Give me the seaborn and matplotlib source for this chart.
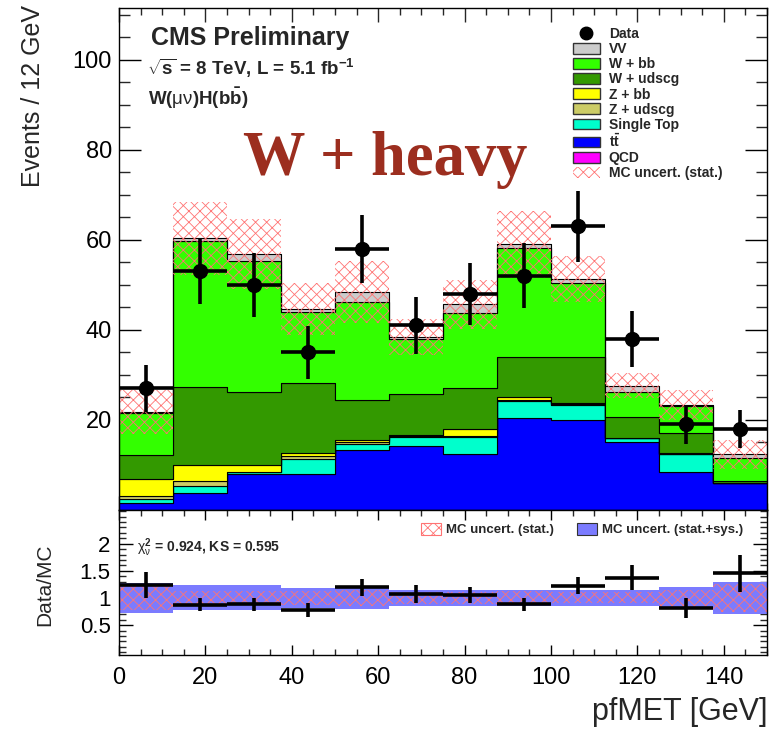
import numpy as np
import pandas as pd
import matplotlib
matplotlib.use("Agg")
import matplotlib.pyplot as plt
import seaborn as sns
from matplotlib.patches import Patch
from matplotlib.lines import Line2D
from matplotlib.ticker import MultipleLocator, FixedLocator

# ---- binning: pfMET from 0 to 150 GeV in 12 bins ----
bin_edges = np.linspace(0.0, 150.0, 13)
bin_centers = 0.5 * (bin_edges[:-1] + bin_edges[1:])
half_width = 0.5 * (bin_edges[1] - bin_edges[0])

# ---- simulated backgrounds (events per bin), stacked bottom -> top ----
qcd       = [0.0, 0.0, 0.0, 0.0, 0.0, 0.0, 0.0, 0.0, 0.0, 0.0, 0.0, 0.0]
ttbar     = [1.6, 3.8, 8.0, 8.1, 13.3, 14.2, 12.4, 20.4, 20.1, 15.0, 8.5, 5.9]
single_top = [0.8, 1.5, 0.4, 3.2, 1.4, 2.1, 3.9, 3.8, 3.3, 0.9, 3.9, 0.0]
z_udscg   = [0.6, 1.1, 0.1, 0.8, 0.3, 0.1, 0.2, 0.2, 0.1, 0.0, 0.1, 0.0]
z_bb      = [3.8, 3.6, 1.5, 0.5, 0.6, 0.2, 1.6, 0.8, 0.3, 0.0, 0.1, 0.0]
w_udscg   = [5.4, 17.4, 16.2, 15.5, 8.8, 9.2, 8.9, 8.7, 10.1, 4.7, 4.4, 0.6]
w_bb      = [9.3, 32.4, 29.1, 15.8, 21.7, 12.1, 16.7, 24.2, 16.5, 5.5, 6.0, 5.0]
vv        = [0.3, 0.6, 1.5, 0.8, 2.4, 0.5, 2.0, 0.9, 0.9, 1.5, 0.3, 0.9]

# ---- observed data and MC uncertainties ----
data_counts = [27, 53, 50, 35, 58, 41, 48, 52, 63, 38, 19, 18]
mc_stat_err = [4.9, 8.1, 7.8, 5.8, 6.9, 4.0, 5.4, 7.4, 5.2, 2.8, 3.4, 3.2]
mc_tot_rel_err = [0.28, 0.23, 0.23, 0.18, 0.21, 0.14, 0.14, 0.14, 0.15, 0.15, 0.20, 0.30]

process_names = ["QCD", "ttbar", "Single Top", "Z + udscg", "Z + bb",
                 "W + udscg", "W + bb", "VV"]
process_values = [qcd, ttbar, single_top, z_udscg, z_bb, w_udscg, w_bb, vv]
process_colors = {
    "QCD": "#ff00ff",
    "ttbar": "#0000ff",
    "Single Top": "#00ffcc",
    "Z + udscg": "#cccc66",
    "Z + bb": "#ffff00",
    "W + udscg": "#339900",
    "W + bb": "#33ff00",
    "VV": "#cccccc",
}
legend_labels = {"ttbar": r"$\mathbf{t}\bar{\mathbf{t}}$"}

stack_df = pd.DataFrame({
    "met": np.tile(bin_centers, len(process_names)),
    "events": np.concatenate([np.asarray(v, float) for v in process_values]),
    "process": np.repeat(process_names, len(bin_centers)),
})

mc_total = np.sum([np.asarray(v, float) for v in process_values], axis=0)
data_arr = np.asarray(data_counts, float)
data_err = np.sqrt(data_arr)
stat_arr = np.asarray(mc_stat_err, float)

# ---- style ----
sns.set_theme(style="ticks")
plt.rcParams["font.family"] = ["Liberation Sans", "DejaVu Sans"]
plt.rcParams["mathtext.fontset"] = "custom"
plt.rcParams["mathtext.rm"] = "Liberation Sans:bold"
plt.rcParams["mathtext.bf"] = "Liberation Sans:bold"
plt.rcParams["mathtext.it"] = "Liberation Sans"
plt.rcParams["hatch.linewidth"] = 0.6
plt.rcParams["axes.edgecolor"] = "black"
plt.rcParams["axes.linewidth"] = 1.0

W, H = 775, 730
fig = plt.figure(figsize=(W / 100, H / 100), dpi=100)
ax = fig.add_axes([119 / W, 1 - 510 / H, 648 / W, 502 / H])
rax = fig.add_axes([119 / W, 1 - 655 / H, 648 / W, 145 / H], sharex=ax)

hatch_red = (1.0, 0.45, 0.45)

# ---- stacked backgrounds (seaborn stacks the first hue level on top) ----
sns.histplot(data=stack_df, x="met", weights="events", hue="process",
             hue_order=process_names[::-1], palette=process_colors,
             multiple="stack", bins=[float(b) for b in bin_edges],
             element="step", alpha=1.0, edgecolor="black", linewidth=0.8,
             legend=False, ax=ax)

# MC statistical uncertainty band
ax.stairs(mc_total + stat_arr, bin_edges, baseline=mc_total - stat_arr,
          fill=True, facecolor="none", edgecolor=hatch_red, hatch="xxx",
          linewidth=0)

# data points
ax.errorbar(bin_centers, data_arr, xerr=half_width, yerr=data_err,
            fmt="o", color="black", ms=10, elinewidth=2.6, capsize=0,
            zorder=5)

ax.set_xlim(0, 150)
ax.set_ylim(0, 111.5)
ax.set_xlabel("")
ax.set_ylabel("")
ax.yaxis.set_major_locator(FixedLocator([20, 40, 60, 80, 100]))
ax.yaxis.set_minor_locator(MultipleLocator(5))
ax.xaxis.set_major_locator(MultipleLocator(20))
ax.xaxis.set_minor_locator(MultipleLocator(5))
ax.tick_params(axis="y", which="major", direction="in", length=16, width=1,
               left=True, right=True, labelsize=17, pad=5, colors="black")
ax.tick_params(axis="y", which="minor", direction="in", length=8, width=1,
               left=True, right=True)
ax.tick_params(axis="x", which="major", direction="in", length=10, width=1,
               top=True, bottom=True, labelbottom=False)
ax.tick_params(axis="x", which="minor", direction="in", length=5, width=1,
               top=True, bottom=True)

# legend for the main panel
handles = [Line2D([], [], marker="o", color="black", ls="none", ms=9)]
labels = ["Data"]
for name in ["VV", "W + bb", "W + udscg", "Z + bb", "Z + udscg",
             "Single Top", "ttbar", "QCD"]:
    handles.append(Patch(facecolor=process_colors[name], edgecolor="#333333",
                         linewidth=1.0))
    labels.append(legend_labels.get(name, name))
handles.append(Patch(facecolor="none", edgecolor=hatch_red, hatch="xxx",
                     linewidth=0))
labels.append("MC uncert. (stat.)")
ax.legend(handles, labels, loc="upper left", bbox_to_anchor=(0.700, 0.962),
          frameon=False, prop={"weight": "bold", "size": 10},
          handlelength=2.0, handleheight=0.8, labelspacing=0.08,
          handletextpad=0.6, borderaxespad=0, borderpad=0)

# ---- ratio panel ----
ratio = data_arr / mc_total
ratio_err = data_err / mc_total
band = np.asarray(mc_tot_rel_err, float)
stat_rel = stat_arr / mc_total

rax.stairs(1 + band, bin_edges, baseline=1 - band, fill=True,
           facecolor="#7b7bff", edgecolor="none", linewidth=0)
rax.stairs(1 + stat_rel, bin_edges, baseline=1 - stat_rel, fill=True,
           facecolor="none", edgecolor=hatch_red, hatch="xxx", linewidth=0)
rax.errorbar(bin_centers, ratio, xerr=half_width, yerr=ratio_err,
             fmt="none", ecolor="black", elinewidth=2.6, capsize=0, zorder=5)

rax.set_ylim(-0.05, 2.62)
rax.set_xlim(0, 150)
rax.yaxis.set_major_locator(FixedLocator([0.5, 1.0, 1.5, 2.0]))
rax.yaxis.set_minor_locator(MultipleLocator(0.1))
rax.set_yticklabels(["0.5", "1", "1.5", "2"])
rax.xaxis.set_major_locator(MultipleLocator(20))
rax.xaxis.set_minor_locator(MultipleLocator(5))
rax.tick_params(axis="y", which="major", direction="in", length=10, width=1,
                left=True, right=True, labelsize=16, pad=6, colors="black")
rax.tick_params(axis="y", which="minor", direction="in", length=5, width=1,
                left=True, right=True)
rax.tick_params(axis="x", which="major", direction="in", length=7, width=1,
                top=True, bottom=True, labelsize=17, pad=9, colors="black")
rax.tick_params(axis="x", which="minor", direction="in", length=4, width=1,
                top=True, bottom=True)
rax.set_xlabel("")
rax.set_ylabel("")

rhandles = [Patch(facecolor="white", edgecolor=hatch_red, hatch="xxx",
                  linewidth=0.8),
            Patch(facecolor="#7b7bff", edgecolor="#333333", linewidth=0.8)]
rlabels = ["MC uncert. (stat.)", "MC uncert. (stat.+sys.)"]
rax.legend(rhandles, rlabels, loc="center left",
           bbox_to_anchor=(0.466, 0.865), ncol=2, frameon=False,
           prop={"weight": "bold", "size": 9.5}, handlelength=1.5,
           handleheight=1.1, handletextpad=0.4, columnspacing=1.75,
           borderaxespad=0, borderpad=0)

fig.text(137 / W, 1 - 548 / H, r"$\chi^2_\nu$ = 0.924, KS = 0.595",
         fontsize=10, fontweight="bold", va="center", ha="left")

# ---- axis titles and annotations ----
fig.text(33 / W, 1 - 5 / H, "Events / 12 GeV", rotation=90, ha="center",
         va="top", fontsize=18)
fig.text(45 / W, 1 - 585 / H, "Data/MC", rotation=90, ha="center",
         va="center", fontsize=15)
fig.text(768 / W, 1 - 712 / H, "pfMET [GeV]", ha="right", va="center",
         fontsize=22)

fig.text(151 / W, 1 - 38 / H, "CMS Preliminary", fontsize=18,
         fontweight="bold", va="center", ha="left")
fig.text(147 / W, 1 - 68 / H,
         r"$\sqrt{\mathbf{s}}$ = 8 TeV, L = 5.1 fb$^{-1}$",
         fontsize=13.5, fontweight="bold", va="center", ha="left")
fig.text(148 / W, 1 - 98 / H,
         r"W($\mu\nu$)H(b$\bar{\mathbf{b}}$)",
         fontsize=13.5, fontweight="bold", va="center", ha="left")
fig.text(243 / W, 1 - 160 / H, "W + heavy", family="Liberation Serif",
         fontweight="bold", fontsize=45, color="#9c2e1f", va="center",
         ha="left")

fig.savefig("out.png", dpi=100)
